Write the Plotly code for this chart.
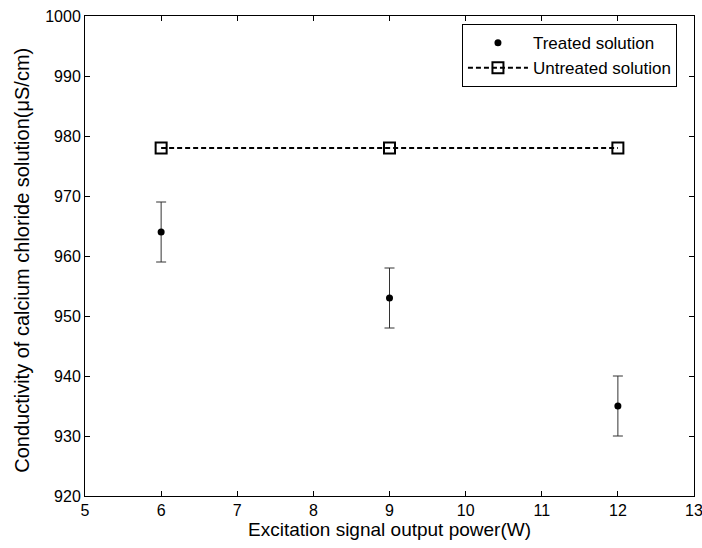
import plotly.graph_objects as go

power = [6, 9, 12]
treated = [964, 953, 935]
treated_err = [5, 5, 5]
untreated = [978, 978, 978]

x_ticks = [5, 6, 7, 8, 9, 10, 11, 12, 13]
y_ticks = [920, 930, 940, 950, 960, 970, 980, 990, 1000]

fig = go.Figure()
fig.add_trace(go.Scatter(
    x=power, y=treated, mode="markers", name="Treated solution",
    marker=dict(color="black", size=7, symbol="circle"),
    error_y=dict(type="data", array=treated_err, visible=True,
                 color="#333333", thickness=1, width=5),
))
fig.add_trace(go.Scatter(
    x=power, y=untreated, mode="lines+markers", name="Untreated solution",
    line=dict(color="black", width=2, dash="5px,3px"),
    marker=dict(symbol="square-open", size=11, color="black",
                line=dict(color="black", width=2)),
))

font = dict(family="Liberation Sans, Arial, sans-serif", color="black")
fig.update_layout(
    width=702, height=548,
    margin=dict(l=85, r=8, t=16, b=52, autoexpand=False),
    paper_bgcolor="white", plot_bgcolor="white",
    font=dict(**font, size=16),
    showlegend=True,
    legend=dict(x=0.972, y=0.983, xanchor="right", yanchor="top",
                bordercolor="black", borderwidth=1, bgcolor="white",
                font=dict(**font, size=17), tracegroupgap=0, itemwidth=60),
    annotations=[dict(
        text="Conductivity of calcium chloride solution(μS/cm)",
        xref="paper", yref="paper", x=(22 - 85) / 609, y=0.49,
        xanchor="center", yanchor="middle", textangle=-90, showarrow=False,
        font=dict(**font, size=20),
    )],
)
fig.update_xaxes(
    range=[5, 13], tickvals=x_ticks, ticktext=[str(v) for v in x_ticks],
    ticks="inside", ticklen=5, tickcolor="black", tickwidth=1,
    showline=True, linecolor="black", linewidth=1, mirror="ticks",
    showgrid=False, zeroline=False, ticklabeloverflow="allow", automargin=False,
    title=dict(text="Excitation signal output power(W)", font=dict(**font, size=19), standoff=2),
    tickfont=dict(**font, size=16),
)
fig.update_yaxes(
    range=[920, 1000], tickvals=y_ticks, ticktext=[str(v) for v in y_ticks],
    ticks="inside", ticklen=5, tickcolor="black", tickwidth=1,
    showline=True, linecolor="black", linewidth=1, mirror="ticks",
    showgrid=False, zeroline=False, automargin=False,
    tickfont=dict(**font, size=16),
)
fig.write_html("out.html")
